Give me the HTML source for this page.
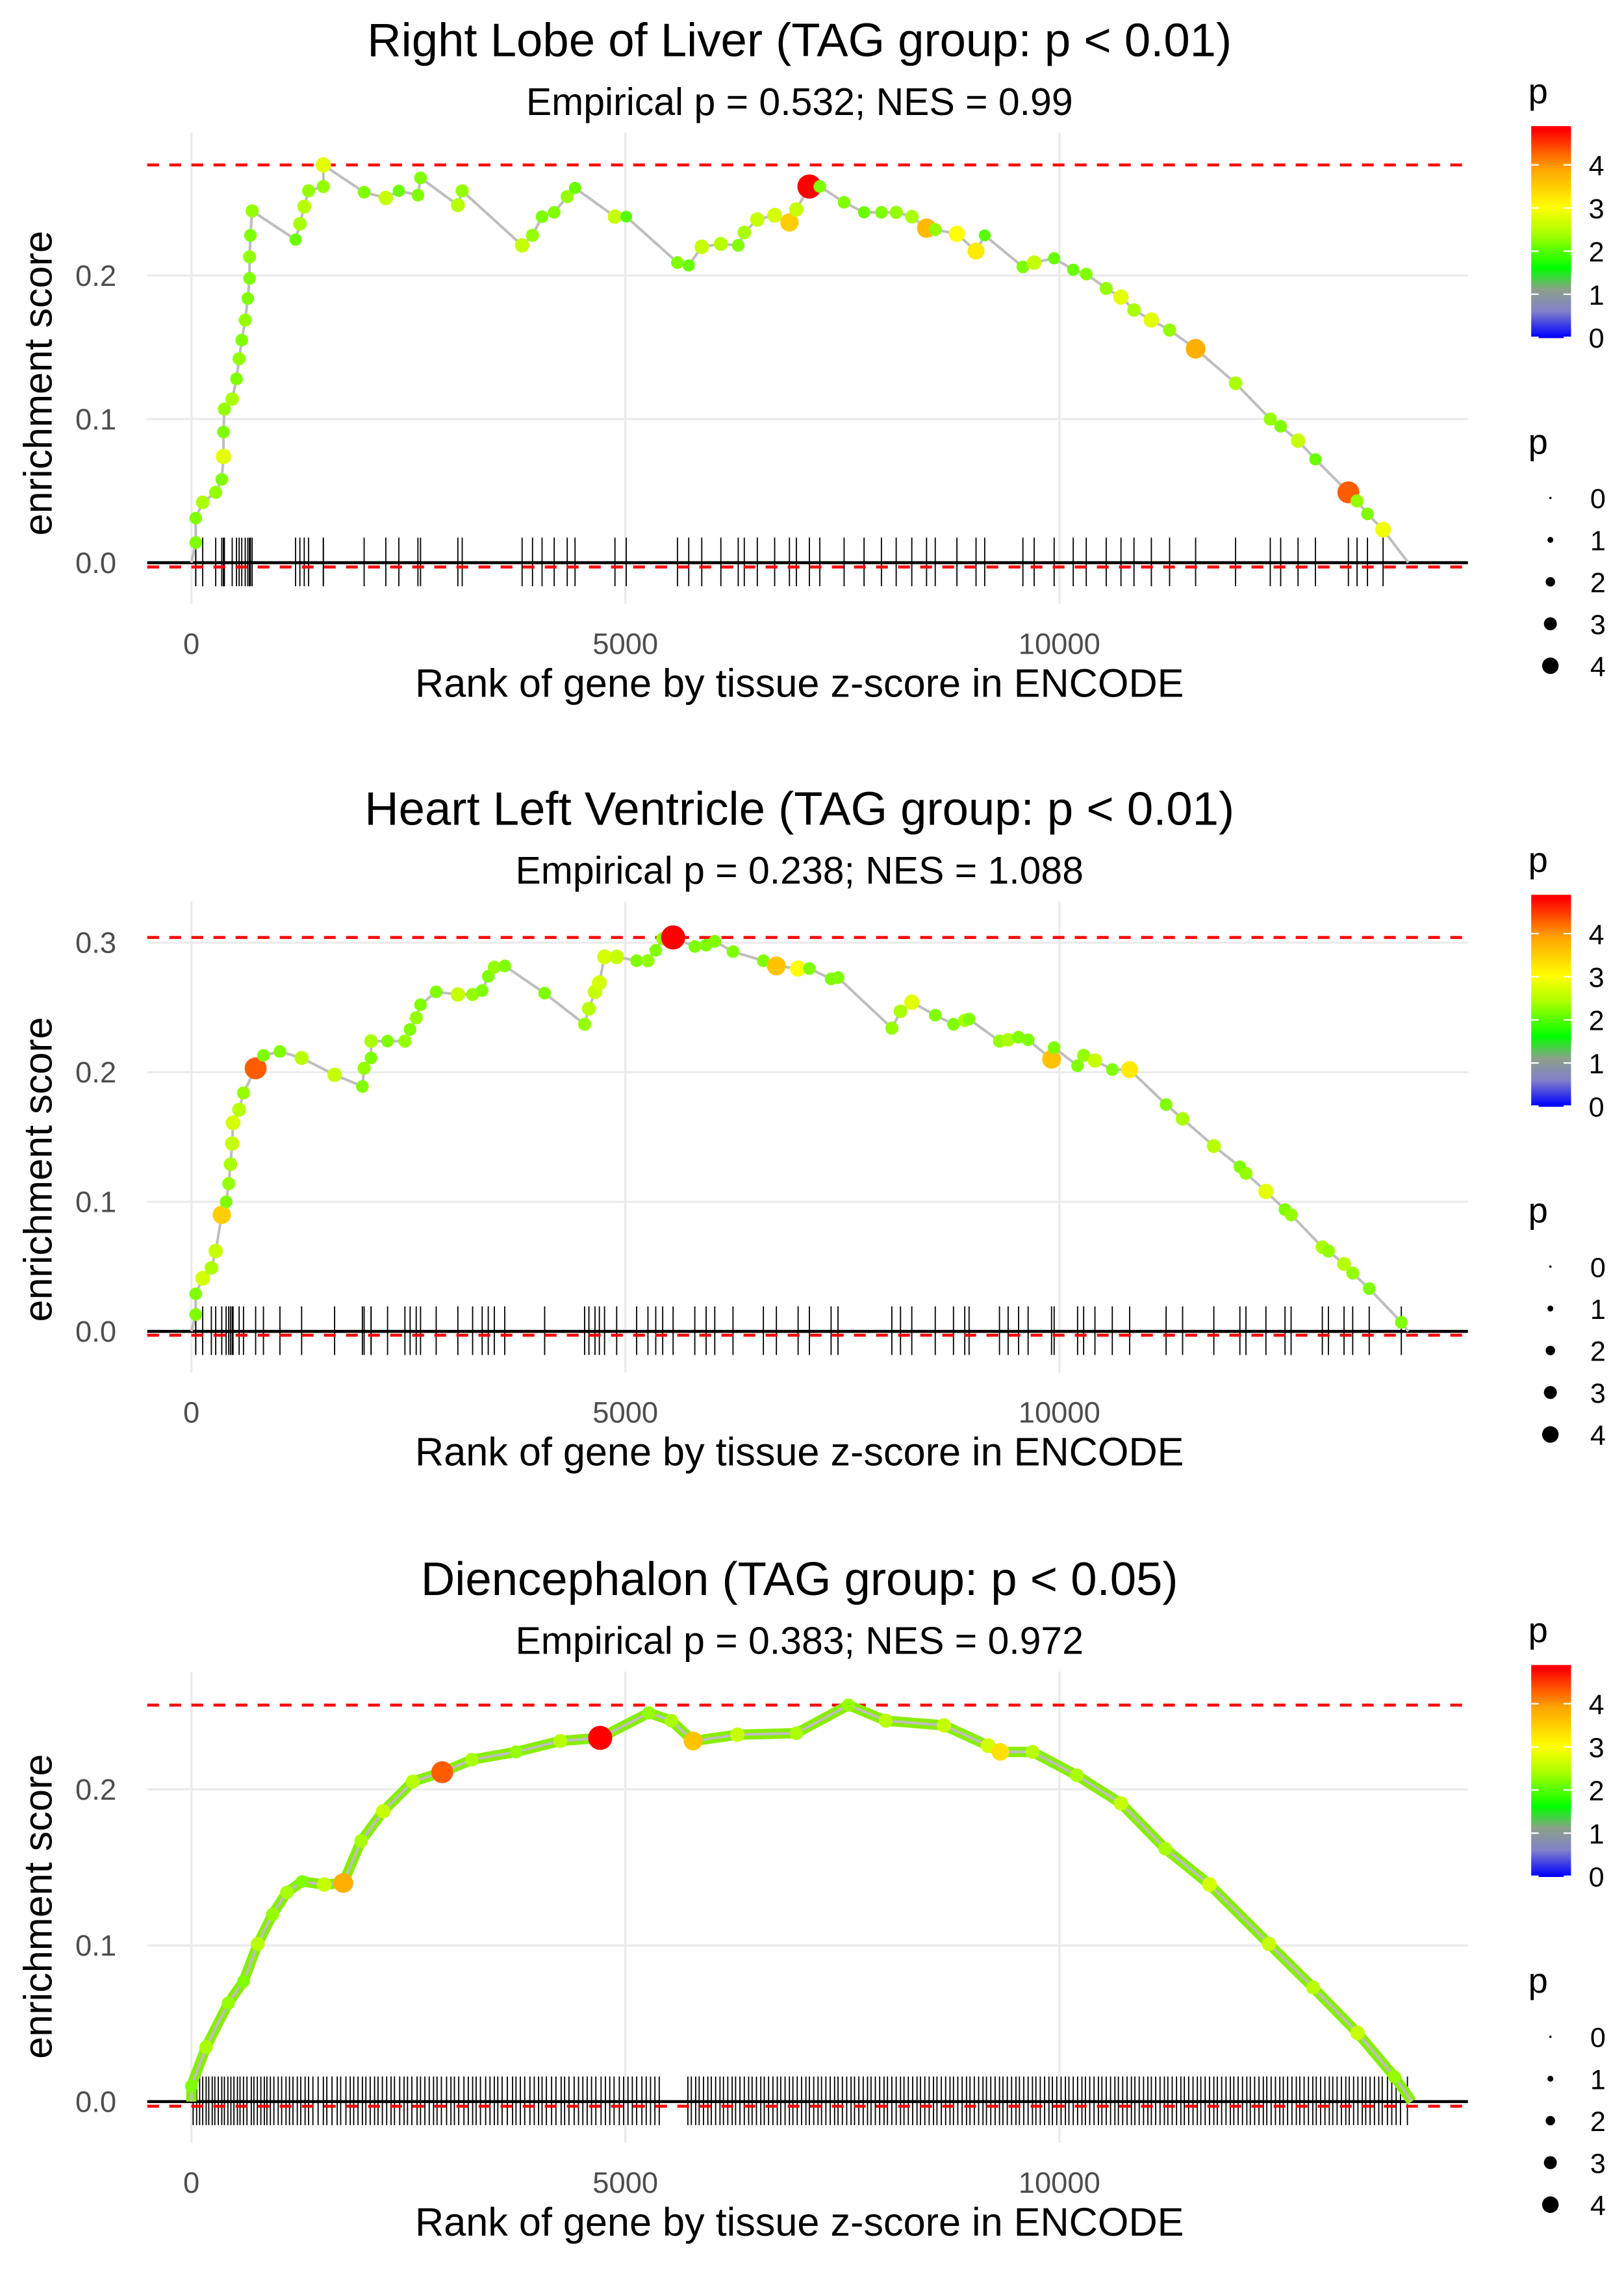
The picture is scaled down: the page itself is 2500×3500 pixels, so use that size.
<!DOCTYPE html>
<html><head><meta charset="utf-8"><title>Enrichment plots</title>
<style>html,body{margin:0;padding:0;background:#fff}svg{display:block}</style></head>
<body>
<svg id="chart" xmlns="http://www.w3.org/2000/svg" width="2500" height="3500" viewBox="0 0 1103 1544" font-family="Liberation Sans, Arial, sans-serif"></svg>
<script>
// ---------- data ----------
const titles = ["Right Lobe of Liver (TAG group: p < 0.01)","Heart Left Ventricle (TAG group: p < 0.01)","Diencephalon (TAG group: p < 0.05)"];
const subtitles = ["Empirical p = 0.532; NES = 0.99","Empirical p = 0.238; NES = 1.088","Empirical p = 0.383; NES = 0.972"];
const xTicks = [0,5000,10000];
const yTicks1 = [0,0.1,0.2];
const yTicks2 = [0,0.1,0.2,0.3];
const yTicks3 = [0,0.1,0.2];
const nGenes = [14020,14020,14060];
const minES = [-0.003,-0.003,-0.003];

const r1=[50,50,130,280,350,370,370,380,470,520,550,580,620,650,670,670,680,700,1200,1250,1300,1350,1520,1520,1990,2240,2390,2610,2640,3070,3120,3810,3930,4040,4180,4330,4420,4880,5010,5600,5730,5880,6100,6300,6370,6520,6720,6890,6970,7120,7240,7520,7750,7950,8120,8300,8470,8570,8820,9040,9140,9580,9710,9940,10160,10310,10540,10710,10860,11060,11270,11570,12030,12430,12550,12750,12950,13330,13430,13550,13730];
const e1=[.014,.031,.042,.049,.058,.074,.091,.107,.114,.128,.142,.155,.169,.184,.198,.213,.228,.245,.225,.236,.248,.259,.262,.277,.258,.254,.259,.256,.268,.249,.259,.221,.228,.241,.244,.255,.261,.241,.241,.209,.207,.220,.222,.221,.230,.239,.242,.237,.246,.262,.262,.251,.244,.244,.244,.241,.233,.232,.229,.217,.228,.206,.209,.212,.204,.201,.191,.185,.176,.169,.162,.149,.125,.100,.095,.085,.072,.049,.043,.034,.023];
const p1=[2.2,2.2,2.4,2.3,2.2,2.8,2.2,2.3,2.4,2.2,2.3,2.2,2.3,2.2,2.2,2.3,2.2,2.3,2.1,2.4,2.5,2.3,2.3,2.8,2.2,2.6,2.1,2.2,2.2,2.5,2.3,2.6,2.3,2.2,2.2,2.3,2.1,2.6,2.0,2.2,2.1,2.6,2.5,2.2,2.4,2.6,2.7,3.5,2.6,4.8,2.2,2.2,2.1,2.2,2.3,2.4,3.7,2.3,3.0,3.2,2.0,2.2,2.6,2.1,2.1,2.2,2.3,2.8,2.4,2.8,2.3,3.8,2.4,2.3,2.2,2.6,2.1,4.3,2.3,2.2,2.9];

const r2=[50,50,130,230,280,350,400,430,450,470,480,550,600,740,830,1020,1270,1650,1970,1990,2070,2070,2260,2460,2520,2590,2640,2820,3070,3240,3350,3420,3490,3610,4070,4530,4580,4650,4700,4760,4900,5130,5260,5350,5430,5550,5800,5930,6030,6240,6590,6740,6990,7120,7370,7450,8070,8170,8300,8570,8780,8910,8960,9310,9410,9530,9640,9910,9940,10210,10280,10410,10610,10810,11230,11420,11780,12080,12150,12380,12600,12670,13030,13100,13280,13380,13570,13940];
const e2=[.013,.029,.041,.049,.062,.090,.100,.114,.129,.145,.161,.171,.184,.203,.213,.216,.211,.198,.189,.203,.211,.224,.224,.224,.233,.242,.252,.262,.260,.260,.263,.274,.281,.282,.261,.237,.249,.262,.269,.289,.289,.286,.286,.294,.303,.304,.297,.298,.301,.293,.286,.282,.280,.280,.272,.273,.234,.247,.254,.244,.237,.240,.241,.224,.225,.227,.225,.210,.219,.205,.213,.209,.202,.202,.175,.164,.143,.127,.122,.108,.094,.090,.065,.062,.052,.045,.033,.007];
const p2=[2.2,2.2,2.7,2.4,2.6,3.5,2.2,2.3,2.4,2.6,2.7,2.5,2.3,4.3,2.2,2.2,2.5,2.6,2.2,2.3,2.2,2.4,2.2,2.3,2.2,2.3,2.2,2.2,2.6,2.3,2.2,2.2,2.3,2.2,2.2,2.3,2.5,2.6,2.7,2.7,2.6,2.2,2.3,2.2,2.3,4.8,2.2,2.2,2.2,2.2,2.2,3.6,3.0,2.2,2.2,2.2,2.3,2.4,2.8,2.2,2.2,2.4,2.2,2.3,2.4,2.2,2.2,3.6,2.2,2.2,2.3,2.6,2.2,3.2,2.2,2.4,2.5,2.2,2.3,2.8,2.2,2.3,2.4,2.3,2.5,2.3,2.2,2.2];

const r3=[0,170,425,600,765,935,1100,1275,1530,1750,1955,2210,2550,2890,3230,3740,4250,4710,5270,5530,5780,6290,6970,7570,8000,8670,9180,9320,9690,10200,10710,11220,11730,12415,12925,13435,13860];
const e3=[0.01,.035,.063,.077,.101,.120,.134,.141,.139,.140,.167,.186,.205,.211,.219,.224,.231,.233,.249,.244,.231,.235,.236,.254,.244,.241,.228,.224,.224,.209,.191,.162,.139,.101,.073,.044,.016];
const p3=[2.2,2.4,2.3,2.2,2.5,2.3,2.4,2.2,2.6,3.8,2.4,2.6,2.5,4.3,2.4,2.3,2.5,4.8,2.3,2.4,3.6,2.6,2.4,2.3,2.5,2.6,2.7,3.3,2.5,2.4,2.6,2.4,2.7,2.6,2.5,2.6,2.3];
const hits3=[20,60,95,130,170,200,240,270,310,350,380,420,455,490,530,560,600,640,690,720,760,800,840,870,910,950,1000,1040,1090,1130,1170,1220,1260,1310,1350,1400,1460,1520,1560,1620,1680,1720,1780,1830,1870,1920,1970,2010,2060,2110,2150,2200,2250,2300,2340,2400,2450,2490,2540,2600,2640,2690,2740,2790,2830,2880,2940,2990,3030,3080,3140,3190,3240,3280,3330,3390,3440,3490,3530,3580,3640,3700,3740,3790,3840,3900,3950,4000,4040,4090,4150,4200,4260,4300,4350,4410,4460,4510,4560,4610,4660,4720,4770,4820,4870,4930,4980,5030,5080,5130,5190,5240,5290,5340,5390,5720,5760,5810,5850,5900,5950,5990,6040,6090,6130,6180,6230,6270,6320,6370,6420,6460,6510,6560,6600,6650,6700,6750,6790,6840,6890,6930,6980,7030,7080,7120,7170,7220,7260,7310,7360,7410,7450,7500,7550,7600,7640,7690,7740,7790,7830,7880,7930,7980,8020,8070,8120,8170,8210,8260,8310,8360,8400,8450,8500,8550,8590,8640,8690,8740,8780,8830,8880,8930,8970,9020,9070,9120,9160,9210,9260,9310,9350,9400,9450,9500,9540,9590,9640,9690,9730,9780,9830,9880,9920,9970,10020,10070,10110,10160,10210,10260,10300,10350,10400,10450,10490,10540,10590,10640,10680,10730,10780,10830,10870,10920,10970,11020,11060,11110,11160,11210,11250,11300,11350,11400,11440,11490,11540,11590,11630,11680,11730,11780,11820,11870,11920,11970,12010,12060,12110,12160,12200,12250,12300,12350,12390,12440,12490,12540,12580,12630,12680,12730,12770,12820,12870,12920,12960,13010,13060,13110,13150,13200,13250,13300,13340,13390,13440,13490,13530,13580,13630,13680,13720,13780,13830,13880,13930,14010];
const legendTicks=[0,1,2,3,4];

// ---------- layout ----------
const NS="http://www.w3.org/2000/svg";
const svg=document.getElementById('chart');
function mk(tag,attrs,parent){const e=document.createElementNS(NS,tag);for(const k in attrs)e.setAttribute(k,attrs[k]);(parent||svg).appendChild(e);return e;}
const X0=100,X1=997;
function xs(r){return 130+r*0.05895;}
const panels=[
 {off:0,zeroY:382,per:975,ticks:yTicks1,r:r1,e:e1,p:p1,hits:r1},
 {off:522,zeroY:904,per:880,ticks:yTicks2,r:r2,e:e2,p:p2,hits:r2},
 {off:1045,zeroY:1427,per:1060,ticks:yTicks3,r:r3,e:e3,p:p3,hits:hits3}
];
const stops=[[0,[0,0,255]],[0.6,[130,130,200]],[1.1,[140,160,140]],[1.6,[0,255,0]],[2.4,[170,255,0]],[3,[255,255,0]],[3.9,[255,165,0]],[4.8,[255,0,0]]];
function col(p){if(p<=stops[0][0])return 'rgb(0,0,255)';for(let i=1;i<stops.length;i++){if(p<=stops[i][0]){const a=stops[i-1],b=stops[i],t=(p-a[0])/(b[0]-a[0]);const c=a[1].map((v,j)=>Math.round(v+(b[1][j]-v)*t));return `rgb(${c})`;}}return 'rgb(255,0,0)';}
function rad(p){return 1+1.5*p;}

panels.forEach((P,k)=>{
 const ys=v=>P.zeroY-v*P.per;
 const g=mk('g',{});
 
 
 const t=mk('text',{x:543,y:38+P.off,'text-anchor':'middle','font-size':32,fill:'#000'},g);t.textContent=titles[k];
 
 const st=mk('text',{x:543,y:78+P.off,'text-anchor':'middle','font-size':26,fill:'#000'},g);st.textContent=subtitles[k];
 
 const plotTop=90+P.off,plotBot=400+P.off;
 xTicks.forEach(v=>{const l=mk('line',{x1:xs(v),x2:xs(v),y1:plotTop,y2:plotBot+10,stroke:'#ebebeb','stroke-width':1.5},g);
  
  const tx=mk('text',{x:xs(v),y:444+P.off,'text-anchor':'middle','font-size':20,fill:'#4d4d4d'},g);tx.textContent=v;
  });
 P.ticks.forEach(v=>{const l=mk('line',{x1:X0,x2:X1,y1:ys(v),y2:ys(v),stroke:'#ebebeb','stroke-width':1.5},g);
  
  const tx=mk('text',{x:79,y:ys(v)+7,'text-anchor':'end','font-size':20,fill:'#4d4d4d'},g);tx.textContent=v.toFixed(1);
  });
 const xt=mk('text',{x:543,y:473+P.off,'text-anchor':'middle','font-size':27,fill:'#000'},g);xt.textContent='Rank of gene by tissue z-score in ENCODE';
 
 const yc=ys(0.125);
 const yt=mk('text',{x:35,y:yc,'text-anchor':'middle','font-size':27,fill:'#000',transform:`rotate(-90 35 ${yc})`},g);yt.textContent='enrichment score';
 
 P.hits.forEach(h=>{const l=mk('line',{x1:xs(h),x2:xs(h),y1:P.zeroY-17,y2:P.zeroY+16,stroke:'#000','stroke-width':0.8},g);
  });
 const z=mk('line',{x1:X0,x2:X1,y1:P.zeroY,y2:P.zeroY,stroke:'#000','stroke-width':2},g);
 
 const mx=Math.max(...P.e);
 [mx,minES[k]].forEach((v,i)=>{const d=mk('line',{x1:X0,x2:X1,y1:ys(v),y2:ys(v),stroke:'#ff0000','stroke-width':2,'stroke-dasharray':'8 7'},g);
  });
 let pts=[`${xs(0)},${ys(0)}`];
 P.r.forEach((r,i)=>pts.push(`${xs(r)},${ys(P.e[i])}`));
 pts.push(`${xs(nGenes[k])},${ys(0)}`);
 if(k===2){const gl=mk('polyline',{points:pts.join(' '),fill:'none',stroke:'#88ee00','stroke-width':7,'stroke-linejoin':'round'},g);
  }
 const pl=mk('polyline',{points:pts.join(' '),fill:'none',stroke:'#bebebe','stroke-width':1.8},g);
 
 P.r.forEach((r,i)=>{const c=mk('circle',{cx:xs(r),cy:ys(P.e[i]),r:rad(P.p[i]),fill:col(P.p[i])},g);
  });
 const lg=mk('g',{},g);
 
 const lt=mk('text',{x:1038,y:70+P.off,'font-size':24,fill:'#000'},lg);lt.textContent='p';
 
 const barTop=87+P.off,barBot=229+P.off,pmax=4.85;
 const py=v=>barBot-v/pmax*(barBot-barTop);
 for(let v=0;v<pmax;v+=0.05){mk('rect',{x:1040,y:py(v+0.05),width:27,height:py(v)-py(v+0.05)+0.5,fill:col(v)},lg);}
 legendTicks.forEach(v=>{
  mk('line',{x1:1040,x2:1045,y1:py(v),y2:py(v),stroke:'#fff','stroke-width':1},lg);
  mk('line',{x1:1062,x2:1067,y1:py(v),y2:py(v),stroke:'#fff','stroke-width':1},lg);
  const tx=mk('text',{x:1079,y:py(v)+7,'font-size':19,fill:'#000'},lg);tx.textContent=v;
  });
 const sg=mk('g',{},g);
 
 const s=mk('text',{x:1038,y:308+P.off,'font-size':24,fill:'#000'},sg);s.textContent='p';
 
 legendTicks.forEach((v,i)=>{const cy=338+P.off+i*28.5;
  const c=mk('circle',{cx:1053,cy:cy,r:rad(v)*0.8,fill:'#000'},sg);
  
  const tx=mk('text',{x:1080,y:cy+7,'font-size':19,fill:'#000'},sg);tx.textContent=v;
  });
});
</script>
</body></html>
